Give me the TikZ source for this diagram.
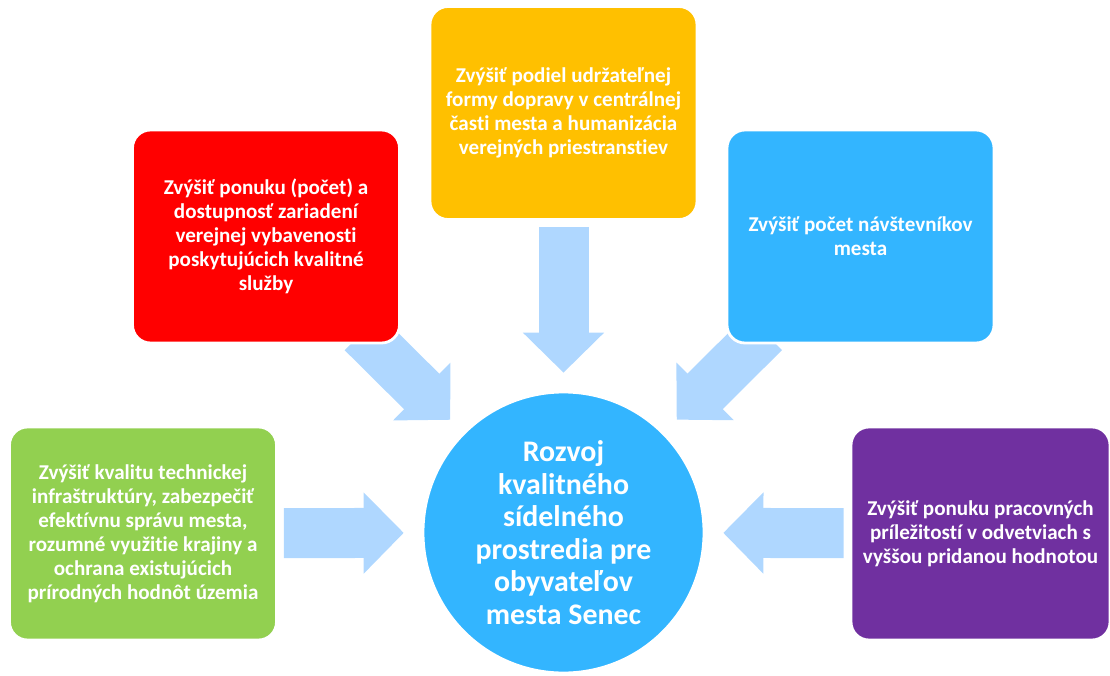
\documentclass[tikz,border=0pt]{standalone}
\usepackage{fontspec}
\setmainfont{Carlito}[Ligatures=CommonOff]
\usepackage{tikz}
\usetikzlibrary{arrows.meta}
\usetikzlibrary{backgrounds}

\definecolor{goalyellow}{HTML}{FFC000}
\definecolor{goalred}{HTML}{FF0000}
\definecolor{goalblue}{HTML}{33B5FF}
\definecolor{goalgreen}{HTML}{92D050}
\definecolor{goalpurple}{HTML}{7030A0}
\definecolor{arrowblue}{HTML}{AFD7FF}

\begin{document}
\begin{tikzpicture}[
  goalbox/.style={rectangle, rounded corners=0.36cm, draw=white, line width=1.6pt,
    minimum width=5.34cm, minimum height=4.26cm, inner sep=0pt,
    text=white, align=center, font=\fontsize{12}{13.7}\selectfont\bfseries},
  bigarrow/.style={arrowblue, line width=1cm,
    -{Triangle[length=0.8cm,width=1.62cm,line width=1.2pt]},
    shorten <=0.12cm, shorten >=0.36cm}
]
\useasboundingbox (0,0) rectangle (22.2,13.5);

% goals
\node[goalbox, fill=goalyellow] (doprava) at (11.27,11.24)
  {Zvýšiť podiel udržateľnej\\formy dopravy v centrálnej\\časti mesta a humanizácia\\verejných priestranstiev};
\node[goalbox, fill=goalred] (sluzby) at (5.32,8.77)
  {Zvýšiť ponuku (počet) a\\dostupnosť zariadení\\verejnej vybavenosti\\poskytujúcich kvalitné\\služby};
\node[goalbox, fill=goalblue] (navstevnici) at (17.21,8.77)
  {Zvýšiť počet návštevníkov\\mesta};
\node[goalbox, fill=goalgreen] (infra) at (2.86,2.83)
  {Zvýšiť kvalitu technickej\\infraštruktúry, zabezpečiť\\efektívnu správu mesta,\\rozumné využitie krajiny a\\ochrana existujúcich\\prírodných hodnôt územia};
\node[goalbox, fill=goalpurple, minimum width=5.18cm] (praca) at (19.61,2.83)
  {Zvýšiť ponuku pracovných\\príležitostí v odvetviach s\\vyššou pridanou hodnotou};

% main goal
\node[circle, fill=goalblue, draw=white, line width=1.6pt, minimum size=5.62cm,
  inner sep=0pt, text=white, align=center,
  font=\fontsize{17}{18.5}\selectfont\bfseries] (rozvoj) at (11.27,2.85)
  {Rozvoj\\kvalitného\\sídelného\\prostredia pre\\obyvateľov\\mesta Senec};

\begin{scope}[on background layer]
\draw[bigarrow] (doprava) -- (rozvoj);
\draw[bigarrow] (infra) -- (rozvoj);
\draw[bigarrow] (praca) -- (rozvoj);
\draw[bigarrow, shorten <=-0.34cm] (sluzby) -- (rozvoj);
\draw[bigarrow, shorten <=-0.34cm] (navstevnici) -- (rozvoj);
\end{scope}
\end{tikzpicture}
\end{document}
